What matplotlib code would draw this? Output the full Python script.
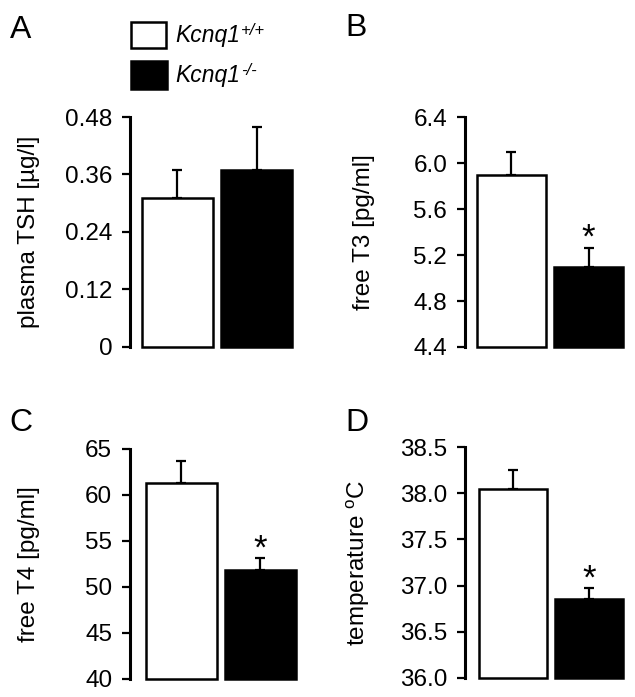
'''
Kcnq1 thyroid / temperature panels
'''

import matplotlib
matplotlib.use('Agg')
import matplotlib.pyplot as plt
from matplotlib.patches import Rectangle
import numpy as np

plt.rcParams['font.family'] = ['Liberation Sans', 'DejaVu Sans']
plt.rcParams['mathtext.fontset'] = 'custom'
plt.rcParams['mathtext.rm'] = 'Liberation Sans'
plt.rcParams['mathtext.it'] = 'Liberation Sans:italic'

# data (wild type, knockout)
groups = ['Kcnq1', 'Kcnq1']
genotypes = ['+/+', '-/-']
tsh_mean = [0.31, 0.37]
tsh_err = [0.06, 0.09]
t3_mean = [5.90, 5.10]
t3_err = [0.20, 0.16]
t4_mean = [61.3, 51.8]
t4_err = [2.4, 1.3]
temp_mean = [38.05, 36.86]
temp_err = [0.20, 0.11]
signif = [False, True, True, True]

tsh_ticks = [0, 0.12, 0.24, 0.36, 0.48]
tsh_labels = ['0', '0.12', '0.24', '0.36', '0.48']
t3_ticks = [4.4, 4.8, 5.2, 5.6, 6.0, 6.4]
t3_labels = ['4.4', '4.8', '5.2', '5.6', '6.0', '6.4']
t4_ticks = [40, 45, 50, 55, 60, 65]
t4_labels = ['40', '45', '50', '55', '60', '65']
temp_ticks = [36.0, 36.5, 37.0, 37.5, 38.0, 38.5]
temp_labels = ['36.0', '36.5', '37.0', '37.5', '38.0', '38.5']

W, H = 635, 697
fig = plt.figure(figsize=(W / 100, H / 100), dpi=100)


def px_axes(left, top, right, bottom):
    return fig.add_axes([left / W, 1 - bottom / H, (right - left) / W, (bottom - top) / H])


def panel(rect, means, errs, ticks, labels, ylabel, label_x, star, xlim):
    ax = px_axes(*rect)
    lo, hi = ticks[0], ticks[-1]
    x = np.arange(2)
    heights = np.array(means) - lo
    ax.errorbar(x, means, yerr=[[0, 0], errs], fmt='none', ecolor='black',
                elinewidth=1.6, capsize=3.6, capthick=1.6, zorder=1)
    ax.bar(x, heights, bottom=lo, width=0.89, color=['white', 'black'],
           edgecolor='black', linewidth=1.8, zorder=2, clip_on=False)
    if star:
        ax.annotate('*', (1, means[1] + errs[1]), xytext=(0, -5),
                    textcoords='offset points', ha='center', va='bottom',
                    fontsize=25)
    ax.set_ylim(lo, hi)
    ax.set_xlim(*xlim)
    ax.set_yticks(ticks)
    ax.set_yticklabels(labels)
    ax.set_xticks([])
    for s in ['top', 'right', 'bottom']:
        ax.spines[s].set_visible(False)
    ax.spines['left'].set_linewidth(2.2)
    ax.tick_params(axis='y', length=5.8, width=1.6, pad=7, labelsize=17.5)
    ax.patch.set_visible(False)
    ax.set_ylabel(ylabel, fontsize=17.5)
    width_px = rect[2] - rect[0]
    ax.yaxis.set_label_coords((label_x - rect[0]) / width_px, 0.5)
    return ax


panel((130, 117, 300, 347), tsh_mean, tsh_err, tsh_ticks, tsh_labels,
      'plasma TSH [µg/l]', 40, signif[0], (-0.6, 1.55))
panel((465, 117, 635, 347), t3_mean, t3_err, t3_ticks, t3_labels,
      'free T3 [pg/ml]', 375, signif[1], (-0.6, 1.6))
panel((130, 449, 300, 679), t4_mean, t4_err, t4_ticks, t4_labels,
      'free T4 [pg/ml]', 40, signif[2], (-0.65, 1.5))
panel((465, 447, 635, 678), temp_mean, temp_err, temp_ticks, temp_labels,
      'temperature $\\mathrm{^oC}$', 372, signif[3], (-0.63, 1.6))

# panel letters
for letter, (lx, ly) in zip('ABCD', [(10, 38), (345, 36), (9, 431), (345, 431)]):
    fig.text(lx / W, 1 - ly / H, letter, fontsize=23, ha='left', va='baseline')

# legend
fig.add_artist(Rectangle((131 / W, 1 - 48 / H), 35 / W, 26 / H, transform=fig.transFigure,
                         facecolor='white', edgecolor='black', linewidth=1.8))
fig.add_artist(Rectangle((131 / W, 1 - 89 / H), 36 / W, 28 / H, transform=fig.transFigure,
                         facecolor='black', edgecolor='black', linewidth=1.8))
for name, gt, ly in zip(groups, genotypes, [42, 82]):
    t = fig.text(175 / W, 1 - ly / H, name, fontsize=16.5, style='italic',
                 va='baseline', ha='left')
    fig.add_artist(plt.Annotation(gt, xy=(1, 1), xycoords=t, xytext=(1, 1),
                                  textcoords='offset points', ha='left', va='top',
                                  fontsize=12, style='italic', annotation_clip=False))

fig.savefig('out.png', dpi=100)
